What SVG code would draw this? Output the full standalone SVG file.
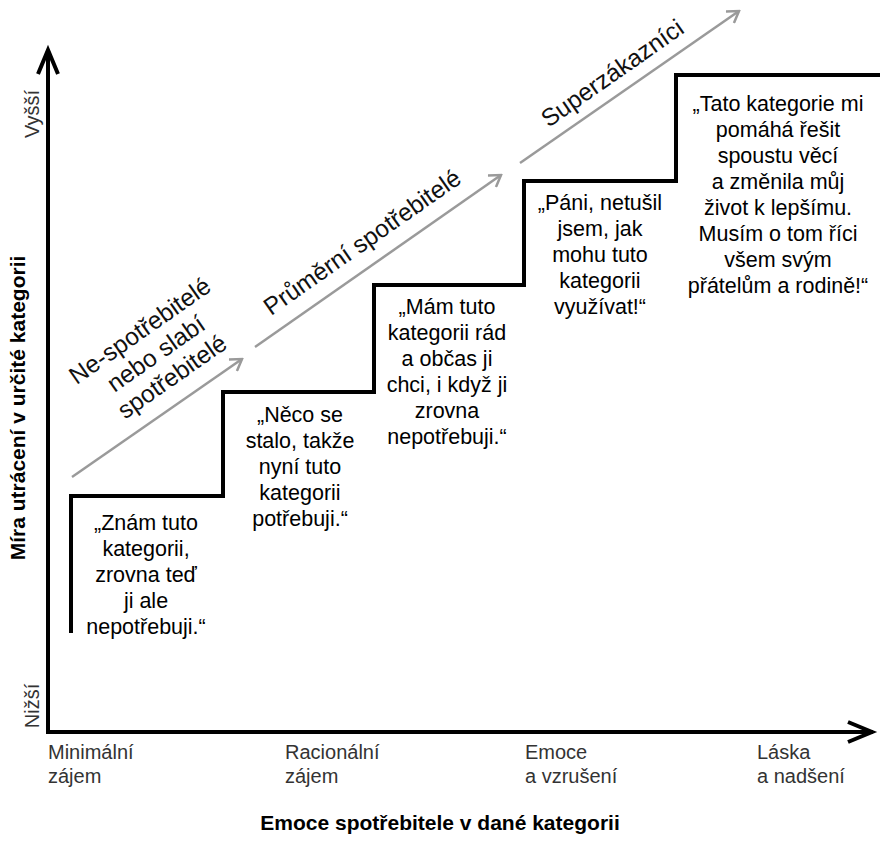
<svg xmlns="http://www.w3.org/2000/svg" width="880" height="849" viewBox="0 0 880 849">
<defs>
<style>
.q{font-family:"Liberation Sans",Arial,sans-serif;font-size:21.5px;fill:#000;text-anchor:middle}
.ax{font-family:"Liberation Sans",Arial,sans-serif;font-size:20px;fill:#333}
.ti{font-family:"Liberation Sans",Arial,sans-serif;font-size:21px;font-weight:bold;fill:#000;text-anchor:middle}
.seg{font-family:"Liberation Sans",Arial,sans-serif;font-size:24.5px;fill:#111;text-anchor:middle}
.gray{fill:none;stroke:#9a9a9a;stroke-width:2.5;marker-end:url(#gh)}
.blk{fill:none;stroke:#000;stroke-width:4}
</style>
<marker id="gh" viewBox="-12 -8 14 16" refX="0" refY="0" markerWidth="14" markerHeight="16" markerUnits="userSpaceOnUse" orient="auto">
<path d="M-11,-7 L0,0 L-11,7" fill="none" stroke="#9a9a9a" stroke-width="2.5"/>
</marker>
</defs>
<rect width="880" height="849" fill="#fff"/>

<g id="axes">
<path class="blk" d="M48,734 V50 M48,732 H873"/>
<path class="blk" d="M38,74 L48,50 L58,74" stroke-width="4.5"/>
<path class="blk" d="M848,722 L872,732 L848,742" stroke-width="4.5"/>
<text class="ax" x="48" y="759">Minimální</text>
<text class="ax" x="48" y="783">zájem</text>
<text class="ax" x="285" y="759">Racionální</text>
<text class="ax" x="285" y="783">zájem</text>
<text class="ax" x="525" y="759">Emoce</text>
<text class="ax" x="525" y="783">a vzrušení</text>
<text class="ax" x="757" y="759">Láska</text>
<text class="ax" x="757" y="783">a nadšení</text>
<text class="ax" transform="translate(39,114) rotate(-90)" text-anchor="middle">Vyšší</text>
<text class="ax" transform="translate(39,706) rotate(-90)" text-anchor="middle">Nižší</text>
<text class="ti" x="440" y="830">Emoce spotřebitele v dané kategorii</text>
<text class="ti" transform="translate(25,408) rotate(-90)">Míra utrácení v určité kategorii</text>
</g>

<g id="connectors">
<path class="blk" d="M71,633 V496 H223 V392 H374 V285 H524 V181 H676 V75 H880"/>
<path class="gray" d="M72,477 L242,359"/>
<path class="gray" d="M255,347 L501,175"/>
<path class="gray" d="M520,163 L739,11"/>
</g>

<g id="seg1" transform="translate(159,358) rotate(-35)">
<text class="seg" x="0" y="-25">Ne-spotřebitelé</text>
<text class="seg" x="0" y="3">nebo slabí</text>
<text class="seg" x="0" y="31">spotřebitelé</text>
</g>
<g id="seg2" transform="translate(367,249) rotate(-35)">
<text class="seg" x="0" y="0">Průměrní spotřebitelé</text>
</g>
<g id="seg3" transform="translate(617,80) rotate(-35)">
<text class="seg" x="0" y="0">Superzákazníci</text>
</g>

<g id="step1">
<text class="q" x="146" y="530">„Znám tuto</text>
<text class="q" x="146" y="556">kategorii,</text>
<text class="q" x="146" y="582">zrovna teď</text>
<text class="q" x="146" y="608">ji ale</text>
<text class="q" x="146" y="634">nepotřebuji.“</text>
</g>
<g id="step2">
<text class="q" x="300" y="422">„Něco se</text>
<text class="q" x="300" y="448">stalo, takže</text>
<text class="q" x="300" y="474">nyní tuto</text>
<text class="q" x="300" y="500">kategorii</text>
<text class="q" x="300" y="526">potřebuji.“</text>
</g>
<g id="step3">
<text class="q" x="447" y="314">„Mám tuto</text>
<text class="q" x="447" y="340">kategorii rád</text>
<text class="q" x="447" y="366">a občas ji</text>
<text class="q" x="447" y="392">chci, i když ji</text>
<text class="q" x="447" y="418">zrovna</text>
<text class="q" x="447" y="444">nepotřebuji.“</text>
</g>
<g id="step4">
<text class="q" x="600" y="210">„Páni, netušil</text>
<text class="q" x="600" y="236">jsem, jak</text>
<text class="q" x="600" y="262">mohu tuto</text>
<text class="q" x="600" y="288">kategorii</text>
<text class="q" x="600" y="314">využívat!“</text>
</g>
<g id="step5">
<text class="q" x="778" y="111">„Tato kategorie mi</text>
<text class="q" x="778" y="137">pomáhá řešit</text>
<text class="q" x="778" y="163">spoustu věcí</text>
<text class="q" x="778" y="189">a změnila můj</text>
<text class="q" x="778" y="215">život k lepšímu.</text>
<text class="q" x="778" y="241">Musím o tom říci</text>
<text class="q" x="778" y="267">všem svým</text>
<text class="q" x="778" y="293">přátelům a rodině!“</text>
</g>
</svg>
